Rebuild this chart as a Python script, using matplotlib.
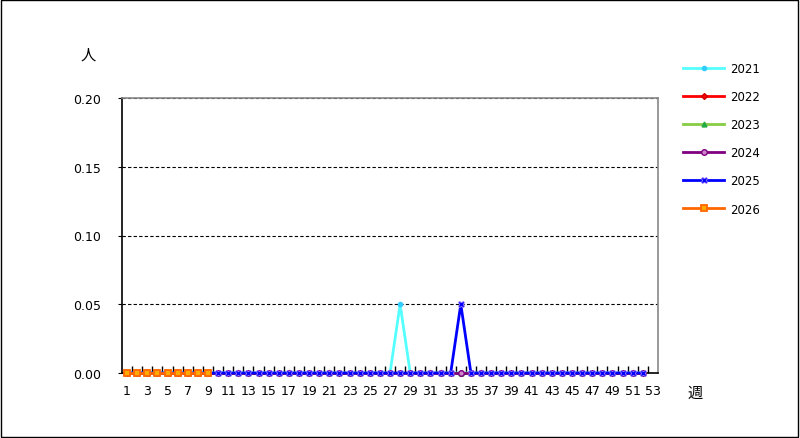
import matplotlib.pyplot as plt
from matplotlib.patches import Rectangle
from matplotlib.ticker import MultipleLocator, FixedLocator

plt.rcParams['font.family'] = ['DejaVu Sans', 'Noto Sans CJK JP']

# weekly values (persons per sentinel)
weeks = list(range(1, 54))
y2021 = [0.0] * 52
y2021[27] = 0.05          # week 28
y2022 = [0.0] * 52
y2023 = [0.0] * 52
y2024 = [0.0] * 52
y2025 = [0.0] * 52
y2025[33] = 0.05          # week 34
y2026 = [0.0] * 9

series = [
    ("2021", y2021, dict(color="#55ffff", marker="o", ms=3, mfc="#33ccff", mec="#33ccff")),
    ("2022", y2022, dict(color="#ff0000", marker="D", ms=3, mfc="#ff0000", mec="#cc0000")),
    ("2023", y2023, dict(color="#88cc44", marker="^", ms=3.5, mfc="#22aa44", mec="#22aa44")),
    ("2024", y2024, dict(color="#800080", marker="o", ms=4, mfc="#cc88cc", mec="#800080")),
    ("2025", y2025, dict(color="#0000ff", marker="X", ms=4.5, mfc="#0000ff", mec="#aa88ff", mew=0.6)),
    ("2026", y2026, dict(color="#ff6600", marker="s", ms=4.8, mfc="#ffaa00", mec="#ff6600", mew=1.3)),
]

fig = plt.figure(figsize=(8, 4.39), dpi=100)
ax = fig.add_axes([122 / 800, 65 / 439, 536 / 800, 275 / 439])

for name, vals, st in series:
    ax.plot(weeks[:len(vals)], vals, lw=2, label=name, clip_on=False, zorder=3, **st)

ax.set_xlim(0.5, 53.5)
ax.set_ylim(0, 0.20)
ax.yaxis.set_major_locator(MultipleLocator(0.05))
ax.set_yticklabels([f"{v:.2f}" for v in ax.get_yticks()])
ax.set_xticks(weeks[::2])
ax.set_xticklabels([str(w) for w in weeks[::2]])
ax.xaxis.set_minor_locator(FixedLocator([w + 0.5 for w in weeks[:-1]]))
ax.tick_params(axis="x", which="major", length=0, labelsize=9, pad=8)
ax.tick_params(axis="x", which="minor", direction="in", length=5, width=1)
ax.tick_params(axis="y", length=3, labelsize=9, pad=12)

ax.grid(axis="y", color="black", linestyle=(0, (3, 2)), lw=0.8)
ax.spines["left"].set_color("black")
ax.spines["bottom"].set_color("black")
ax.spines["top"].set_color("#888888")
ax.spines["right"].set_color("#888888")
for s in ax.spines.values():
    s.set_linewidth(1.2)

fig.text(88 / 800, 1 - 55 / 439, "人", family=["Noto Sans CJK JP"], fontsize=11,
         ha="center", va="center")
fig.text(695 / 800, 1 - 393 / 439, "週", family=["Noto Sans CJK JP"], fontsize=11,
         ha="center", va="center")

ax.legend(loc="upper left", bbox_to_anchor=(683 / 800, 1 - 63 / 439),
          bbox_transform=fig.transFigure, frameon=False, fontsize=8.5,
          handlelength=3.5, handletextpad=0.5, labelspacing=1.28,
          borderpad=0, borderaxespad=0)

fig.patches.append(Rectangle((0.001, 0.002), 0.997, 0.996, transform=fig.transFigure,
                             fill=False, edgecolor="black", lw=1))

fig.savefig("out.png", dpi=100)
